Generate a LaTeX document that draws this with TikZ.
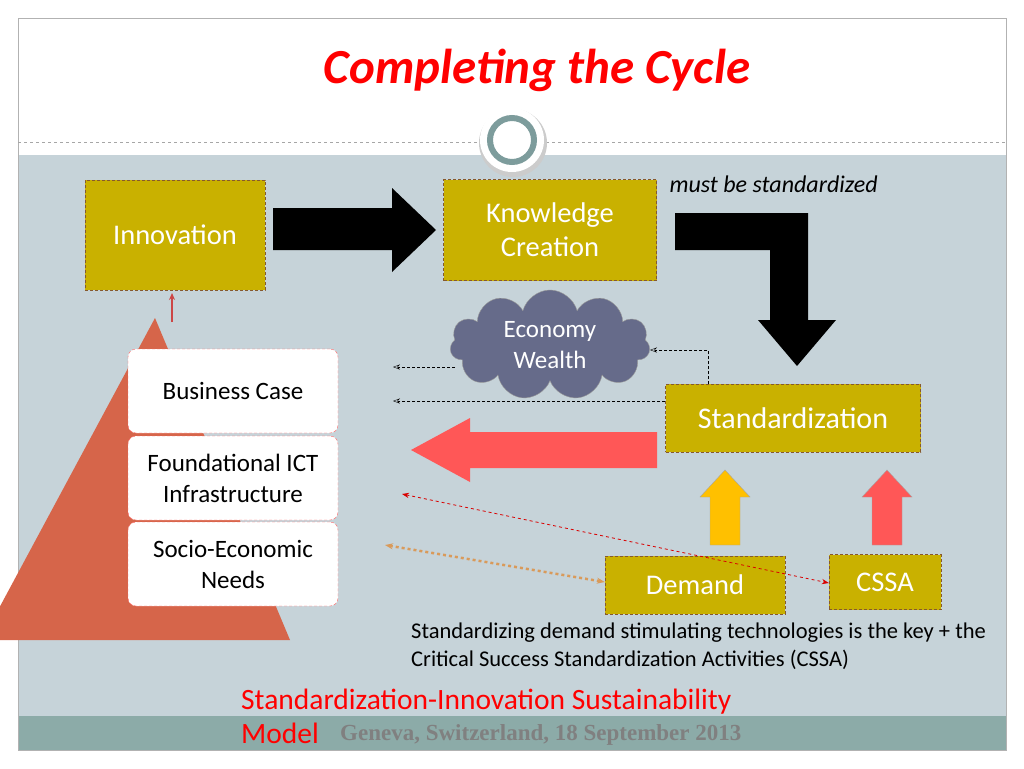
\documentclass[tikz,border=0pt]{standalone}
\usepackage{fontspec}
\setmainfont{Carlito}
\newfontfamily\serifb{Liberation Serif}
\usetikzlibrary{shapes.symbols,arrows.meta}
\definecolor{olive}{HTML}{C9B100}
\definecolor{bgl}{HTML}{C6D3D9}
\definecolor{teal}{HTML}{8CABA8}
\definecolor{ring}{HTML}{7D9C9C}
\definecolor{pyr}{HTML}{D6654A}
\definecolor{redar}{HTML}{FF5757}
\definecolor{cloudc}{HTML}{666B8A}
\definecolor{orng}{HTML}{D99A5A}
\definecolor{yel}{HTML}{FFC000}
\begin{document}
\begin{tikzpicture}[x=1pt,y=-1pt,
 box/.style={fill=olive,draw=brown!70!black,densely dashed,text=white,font=\fontsize{28.5}{34}\selectfont,align=center},
 wbox/.style={fill=white,draw=red!60,densely dashed,rounded corners=8pt,minimum width=210pt,minimum height=84pt,align=center,font=\fontsize{25}{31}\selectfont},
 dar/.style={densely dashed,-{Stealth[length=7pt,open]},thin}]
\useasboundingbox (0,0) rectangle (1024,768);
\fill[white] (0,0) rectangle (1024,768);
\fill[bgl] (18,155) rectangle (1006,716);
\fill[teal] (18,716) rectangle (1006,750);
\draw[gray!60] (18,18) rectangle (1006,750);
\draw[gray!70,dashed] (18,142) -- (1006,142);
\node[font=\fontsize{49}{56}\selectfont\bfseries\itshape,text=red] (title) at (537,70) {Completing the Cycle};
\fill[gray!40] (513,143) circle (34);
\fill[white] (512,140) circle (32);
\draw[ring,line width=6pt] (512,140) circle (22);
% pyramid
\fill[pyr] (155,318) -- (290,640) -- (-10,640) -- (-10,625) -- cycle;
\node[box,minimum width=180pt,minimum height=110pt] (inn) at (175,235) {Innovation};
\node[box,minimum width=213pt,minimum height=101pt] (kc) at (550,230) {Knowledge\\Creation};
\node[font=\fontsize{24}{28}\selectfont\itshape,anchor=west] (must) at (666,184) {must be standardized};
\fill[black] (273,208) -- (392,208) -- (392,188) -- (436,230) -- (392,272) -- (392,250) -- (273,250) -- cycle;
\fill[black] (675,213) -- (808,213) -- (808,320) -- (836,320) -- (797,366) -- (758,320) -- (770,320) -- (770,250) -- (675,250) -- cycle;
\node[cloud,cloud puffs=11,aspect=1.9,fill=cloudc,draw=gray!80,text=white,font=\fontsize{25}{31}\selectfont,align=center,minimum width=200pt,minimum height=110pt,inner sep=0pt] (eco) at (550,345) {Economy\\Wealth};
\node[box,minimum width=255pt,minimum height=68pt,font=\fontsize{30}{34}\selectfont] (std) at (793,418) {Standardization};
\coordinate (c1) at (393,367);
\coordinate (c2) at (393,401);
\draw[dar] (708,384) |- (650,350);
\draw[dar] (455,367) -- (c1);
\draw[dar] (std.west |- 0,401) -- (c2);
\fill[redar] (657,432) -- (470,432) -- (470,418) -- (411,450) -- (470,482) -- (470,468) -- (657,468) -- cycle;
\draw[redar!80!black,line width=1.5pt,-{Stealth[length=7pt,width=6pt]}] (172,322) -- (172,293);
\node[wbox] (bc) at (233,391) {Business Case};
\node[wbox] (ict) at (233,478) {Foundational ICT\\Infrastructure};
\node[wbox] (sen) at (233,564) {Socio-Economic\\Needs};
\node[box,minimum width=180pt,minimum height=58pt] (dem) at (695,585) {Demand};
\node[box,minimum width=112pt,minimum height=55pt] (cssa) at (885,582) {CSSA};
\filldraw[fill=yel,draw=gray!70] (710,545) -- (710,497) -- (700,497) -- (725,470) -- (750,497) -- (740,497) -- (740,545) -- cycle;
\filldraw[fill=redar,draw=gray!70] (872,545) -- (872,497) -- (862,497) -- (887,470) -- (912,497) -- (902,497) -- (902,545) -- cycle;
\coordinate (r1) at (402,494);
\coordinate (o1) at (385,545);
\draw[red!85!black,dashed,thick,{Stealth[length=7pt]}-{Stealth[length=7pt]}] (r1) -- (cssa.west |- 0,583);
\draw[orng,dashed,line width=2.5pt,{Stealth[length=8pt]}-{Stealth[length=8pt]}] (o1) -- (dem.west |- 0,582);
\node[anchor=north west,align=left,font=\fontsize{22.5}{28}\selectfont,inner sep=0pt] (note) at (411,623) {Standardizing demand stimulating technologies is the key + the\\Critical Success Standardization Activities (CSSA)};
\node[anchor=west,text=red,font=\fontsize{29.5}{32}\selectfont,inner sep=0pt] (m1) at (241,702) {Standardization-Innovation Sustainability};
\node[anchor=west,text=red,font=\fontsize{29.5}{32}\selectfont,inner sep=0pt] (m2) at (241,733) {Model};
\node[anchor=west,text=gray,font=\serifb\bfseries\fontsize{23}{26}\selectfont,inner sep=0pt] (geo) at (340,735) {Geneva, Switzerland, 18 September 2013};
\end{tikzpicture}
\end{document}
